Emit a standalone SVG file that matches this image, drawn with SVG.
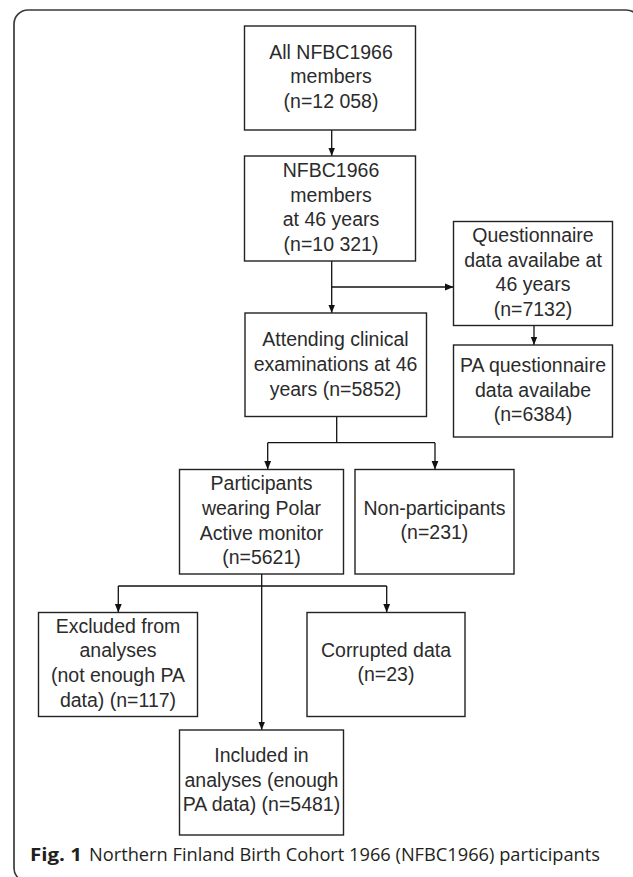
<svg xmlns="http://www.w3.org/2000/svg" width="633" height="877" viewBox="0 0 633 877">
<defs>
<style>
.box{fill:#fff;stroke:#222;stroke-width:1.4}
.t{font-family:"Liberation Sans",Arial,sans-serif;font-size:19.5px;fill:#2b2b2b;text-anchor:middle}
.c{fill:none;stroke:#111;stroke-width:1.3}
.cap{font-family:"Open Sans","Noto Sans",sans-serif;font-size:18.5px;fill:#231f20}
</style>
<marker id="ah" viewBox="0 0 10 10" refX="10" refY="5" markerWidth="8.5" markerHeight="8.5" orient="auto" markerUnits="userSpaceOnUse">
<path d="M0,1 L10,5 L0,9 z" fill="#111"/>
</marker>
</defs>
<rect width="633" height="877" fill="#fff"/>
<rect x="14" y="10" width="626" height="872" rx="14" fill="none" stroke="#3a3a3a" stroke-width="1.7"/>

<g id="connectors">
<line class="c" x1="331.7" y1="130" x2="331.7" y2="156" marker-end="url(#ah)"/>
<line class="c" x1="331.7" y1="261" x2="331.7" y2="313" marker-end="url(#ah)"/>
<line class="c" x1="331.7" y1="287" x2="453.5" y2="287" marker-end="url(#ah)"/>
<line class="c" x1="534" y1="325.5" x2="534" y2="345" marker-end="url(#ah)"/>
<line class="c" x1="336.7" y1="416.5" x2="336.7" y2="442.7"/>
<line class="c" x1="267.7" y1="442.7" x2="435" y2="442.7"/>
<line class="c" x1="267.7" y1="442.7" x2="267.7" y2="469.5" marker-end="url(#ah)"/>
<line class="c" x1="435" y1="442.7" x2="435" y2="469.5" marker-end="url(#ah)"/>
<line class="c" x1="261.7" y1="574" x2="261.7" y2="730" marker-end="url(#ah)"/>
<line class="c" x1="118.3" y1="586" x2="386.7" y2="586"/>
<line class="c" x1="118.3" y1="586" x2="118.3" y2="612.5" marker-end="url(#ah)"/>
<line class="c" x1="386.7" y1="586" x2="386.7" y2="612.5" marker-end="url(#ah)"/>
</g>

<g id="n1">
<rect class="box" x="244.5" y="26" width="171" height="104"/>
<text class="t" x="331" y="58.5">All NFBC1966</text>
<text class="t" x="331" y="83">members</text>
<text class="t" x="331" y="107.5">(n=12 058)</text>
</g>
<g id="n2">
<rect class="box" x="244.5" y="156" width="171" height="105"/>
<text class="t" x="331" y="176.7">NFBC1966</text>
<text class="t" x="331" y="201.5">members</text>
<text class="t" x="331" y="226">at 46 years</text>
<text class="t" x="331" y="250.5">(n=10 321)</text>
</g>
<g id="n3">
<rect class="box" x="453.5" y="221.5" width="159" height="104"/>
<text class="t" x="533" y="241.7">Questionnaire</text>
<text class="t" x="533" y="266.5">data availabe at</text>
<text class="t" x="533" y="291.3">46 years</text>
<text class="t" x="533" y="315.5">(n=7132)</text>
</g>
<g id="n4">
<rect class="box" x="453.5" y="345" width="159" height="92"/>
<text class="t" x="533" y="371.7">PA questionnaire</text>
<text class="t" x="533" y="396.5">data availabe</text>
<text class="t" x="533" y="420.5">(n=6384)</text>
</g>
<g id="n5">
<rect class="box" x="245" y="313" width="181.5" height="103.5"/>
<text class="t" x="335.5" y="345.7">Attending clinical</text>
<text class="t" x="335.5" y="370.5">examinations at 46</text>
<text class="t" x="335.5" y="395.5">years (n=5852)</text>
</g>
<g id="n6">
<rect class="box" x="179.5" y="469.5" width="164" height="104.5"/>
<text class="t" x="261.5" y="489.5">Participants</text>
<text class="t" x="261.5" y="514.5">wearing Polar</text>
<text class="t" x="261.5" y="539.5">Active monitor</text>
<text class="t" x="261.5" y="563.7">(n=5621)</text>
</g>
<g id="n7">
<rect class="box" x="355" y="469.5" width="159" height="104.5"/>
<text class="t" x="434.5" y="514.5">Non-participants</text>
<text class="t" x="434.5" y="538.7">(n=231)</text>
</g>
<g id="n8">
<rect class="box" x="38.5" y="612.5" width="159" height="104"/>
<text class="t" x="118" y="632.7">Excluded from</text>
<text class="t" x="118" y="657.3">analyses</text>
<text class="t" x="118" y="681.7">(not enough PA</text>
<text class="t" x="118" y="706.5">data) (n=117)</text>
</g>
<g id="n9">
<rect class="box" x="307" y="612.5" width="158" height="104"/>
<text class="t" x="386" y="657.3">Corrupted data</text>
<text class="t" x="386" y="680.5">(n=23)</text>
</g>
<g id="n10">
<rect class="box" x="179.5" y="730" width="164" height="105"/>
<text class="t" x="261.5" y="761.7">Included in</text>
<text class="t" x="261.5" y="786.5">analyses (enough</text>
<text class="t" x="261.5" y="811">PA data) (n=5481)</text>
</g>

<g id="caption">
<text class="cap" x="30" y="861" font-weight="bold" textLength="52" lengthAdjust="spacingAndGlyphs">Fig. 1</text>
<text class="cap" x="89" y="861" textLength="511" lengthAdjust="spacingAndGlyphs">Northern Finland Birth Cohort 1966 (NFBC1966) participants</text>
</g>
</svg>
